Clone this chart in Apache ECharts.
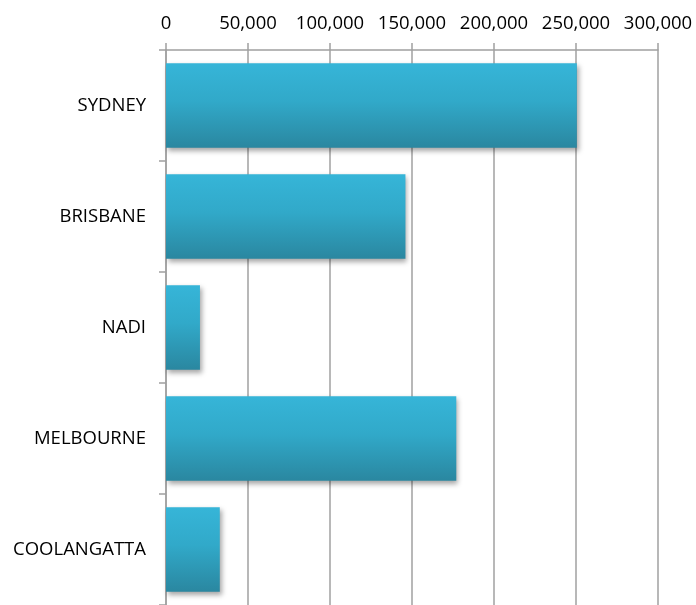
<!DOCTYPE html>
<html>
<head>
<meta charset="utf-8">
<script src="https://cdn.jsdelivr.net/npm/echarts@6/dist/echarts.min.js"></script>
<style>
html,body{margin:0;padding:0;background:#fff;}
#chart{width:696px;height:605px;}
</style>
</head>
<body>
<div id="chart"></div>
<script>
const categories = ["SYDNEY", "BRISBANE", "NADI", "MELBOURNE", "COOLANGATTA"];
const values = [250500, 146000, 20700, 177000, 32800];
const tickMin = 0, tickMax = 300000, tickStep = 50000;

const chart = echarts.init(document.getElementById('chart'));
const font = '"Open Sans", "Liberation Sans", sans-serif';
chart.setOption({
  animation: false,
  grid: {left: 166, right: 38, top: 50, bottom: 0, containLabel: false},
  xAxis: {
    type: 'value', position: 'top', min: tickMin, max: tickMax, interval: tickStep,
    axisLine: {show: true, lineStyle: {color: '#a0a0a0', width: 1.5}},
    axisTick: {show: true, length: 7, lineStyle: {color: '#a0a0a0', width: 1.5}},
    splitLine: {show: true, lineStyle: {color: '#a0a0a0', width: 1.5}},
    axisLabel: {color: '#000', fontSize: 18.5, fontFamily: font, margin: 17,
      formatter: v => v.toLocaleString('en-US')}
  },
  yAxis: {
    type: 'category', data: categories, inverse: true,
    axisLine: {show: true, lineStyle: {color: '#a0a0a0', width: 1.5}},
    axisTick: {show: true, length: 7, lineStyle: {color: '#a0a0a0', width: 1.5}},
    splitLine: {show: false},
    axisLabel: {color: '#000', fontSize: 18.5, fontFamily: font, margin: 20}
  },
  series: [{
    type: 'bar', data: values, barCategoryGap: '24%',
    itemStyle: {
      color: new echarts.graphic.LinearGradient(0, 0, 0, 1, [
        {offset: 0, color: '#36b5d8'},
        {offset: 0.45, color: '#31a9c9'},
        {offset: 1, color: '#2a87a0'}
      ]),
      shadowColor: 'rgba(0,0,0,0.35)', shadowBlur: 5, shadowOffsetX: 2, shadowOffsetY: 3
    }
  }]
});
</script>
</body>
</html>
